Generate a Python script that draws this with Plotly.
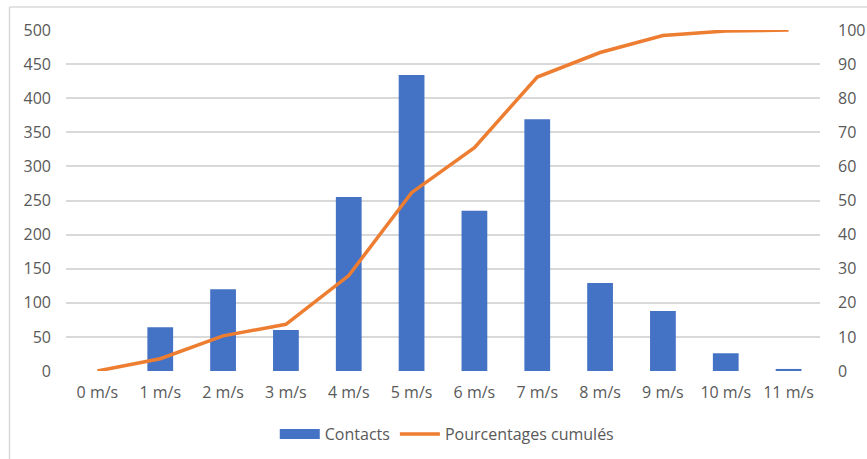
import plotly.graph_objects as go

categories = ["0 m/s", "1 m/s", "2 m/s", "3 m/s", "4 m/s", "5 m/s", "6 m/s",
              "7 m/s", "8 m/s", "9 m/s", "10 m/s", "11 m/s"]
contacts = [0, 64, 120, 60, 255, 434, 235, 369, 129, 88, 26, 3]
cumulative_pct = [0, 3.6, 10.3, 13.7, 28.0, 52.3, 65.5, 86.2, 93.4, 98.4, 99.7, 100]
left_ticks = list(range(0, 501, 50))
right_ticks = list(range(0, 101, 10))

FONT = "Open Sans"
TXT = "#595959"
GRID = "#d9d9d9"
BLUE = "#4472C4"
ORANGE = "#ED7D31"
FS = 16

fig = go.Figure()
fig.add_trace(go.Bar(x=categories, y=contacts, name="Contacts", showlegend=False,
                     legendgroup="c", marker=dict(color=BLUE, line=dict(width=0))))
# legend entry styled like Excel's wide swatch
fig.add_trace(go.Scatter(x=[None], y=[None], name="Contacts", mode="lines",
                         legendgroup="c", line=dict(color=BLUE, width=10)))
fig.add_trace(go.Scatter(x=categories, y=cumulative_pct, name="Pourcentages cumulés",
                         mode="lines", yaxis="y2",
                         line=dict(color=ORANGE, width=3.5)))

W, H = 867, 459
L, R, T, B = 66, 47, 30, 88
pw, ph = W - L - R, H - T - B

def px2paper_x(px):
    return (px - L) / pw

def px2paper_y(py):
    return (H - B - py) / ph

fig.update_layout(
    width=W, height=H,
    margin=dict(l=L, r=R, t=T, b=B, autoexpand=False),
    paper_bgcolor="white", plot_bgcolor="white",
    font=dict(family=FONT, size=FS, color=TXT),
    bargap=0.59,
    showlegend=True,
    legend=dict(orientation="h", x=0.505, xanchor="center",
                y=px2paper_y(434), yanchor="middle",
                font=dict(family=FONT, size=FS, color=TXT),
                itemwidth=40, tracegroupgap=0),
    xaxis=dict(showgrid=False, showline=False, ticks="", zeroline=False,
               automargin=False,
               tickfont=dict(family=FONT, size=FS, color=TXT),
               ticklabelstandoff=10),
    yaxis=dict(range=[0, 500], tickvals=left_ticks, showgrid=True, gridcolor=GRID,
               gridwidth=1.5, zeroline=False, showline=False, ticks="",
               automargin=False,
               tickfont=dict(family=FONT, size=FS, color=TXT),
               ticklabelstandoff=14),
    yaxis2=dict(range=[0, 100], tickvals=right_ticks, overlaying="y", side="right",
                showgrid=False, zeroline=False, showline=False, ticks="",
                automargin=False,
                tickfont=dict(family=FONT, size=FS, color=TXT),
                ticklabelstandoff=17),
    shapes=[
        dict(type="line", xref="paper", yref="paper",
             x0=px2paper_x(9.5), x1=px2paper_x(W + 5), y0=px2paper_y(7), y1=px2paper_y(7),
             line=dict(color=GRID, width=1.5)),
        dict(type="line", xref="paper", yref="paper",
             x0=px2paper_x(9.5), x1=px2paper_x(9.5), y0=px2paper_y(7), y1=px2paper_y(H + 5),
             line=dict(color=GRID, width=1.5)),
    ],
)

fig.write_html("out.html")
